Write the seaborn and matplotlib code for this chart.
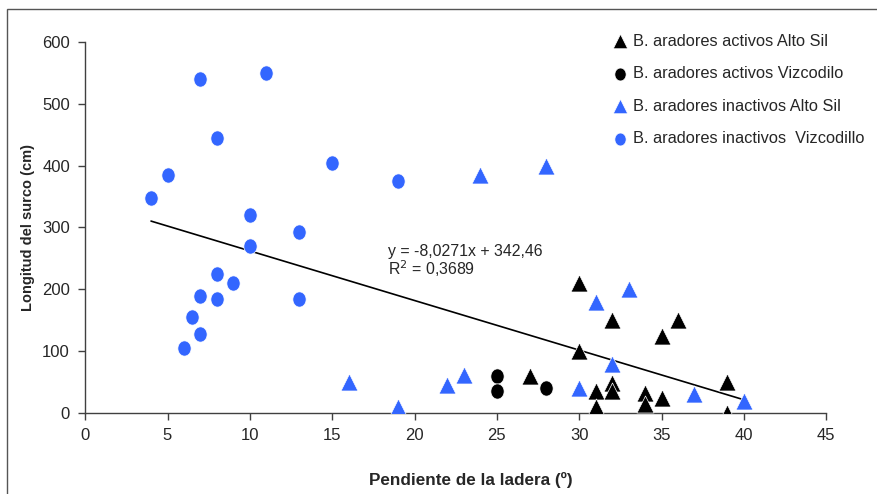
import matplotlib
matplotlib.use("Agg")
import matplotlib.pyplot as plt
from matplotlib import font_manager
from matplotlib.path import Path
import numpy as np
import pandas as pd
import seaborn as sns

# data: slope (deg) vs furrow length (cm)
act_altosil_x = [27, 30, 30, 31, 31, 32, 32, 32, 34, 34, 35, 35, 36, 39, 39]
act_altosil_y = [60, 210, 100, 35, 10, 150, 48, 35, 32, 15, 25, 125, 150, 50, 0]

act_vizco_x = [25, 25, 28]
act_vizco_y = [60, 35, 40]

inact_altosil_x = [16, 19, 22, 23, 24, 28, 30, 31, 32, 33, 37, 40]
inact_altosil_y = [50, 10, 45, 62, 385, 400, 40, 180, 80, 200, 30, 20]

inact_vizco_x = [4, 5, 7, 11, 8, 15, 19, 10, 10, 13, 8, 9, 7, 8, 13, 6.5, 7, 6]
inact_vizco_y = [348, 385, 540, 550, 445, 405, 375, 320, 270, 292, 225, 210, 190, 185, 185, 155, 128, 105]

groups = ["B. aradores activos Alto Sil", "B. aradores activos Vizcodilo",
          "B. aradores inactivos Alto Sil", "B. aradores inactivos  Vizcodillo"]

# trend line reported on the chart
slope, intercept = -8.0271, 342.46
line_x = [4, 40]

sns.set_style("white")
plt.rcParams["font.family"] = ["Liberation Sans", "DejaVu Sans"]

names = {f.name for f in font_manager.fontManager.ttflist}
if "Liberation Sans Narrow" in names:
    narrow = ["Liberation Sans Narrow", "Liberation Sans", "DejaVu Sans"]
    tick_fs, xlab_fs = 14.5, 14.5
else:
    narrow = ["Liberation Sans", "DejaVu Sans"]
    tick_fs, xlab_fs = 12, 12.3

# slightly tall ellipse for the round markers
t = np.linspace(0, 2 * np.pi, 60)
ellipse = Path(np.column_stack([0.87 * np.cos(t), np.sin(t)]), closed=True)

fig = plt.figure(figsize=(8.78, 4.94), dpi=100)
ax = fig.add_axes([0.097, 0.164, 0.844, 0.751])

blue = "#3366FF"
series = [
    (act_altosil_x, act_altosil_y, groups[0], "black", "^", 150),
    (act_vizco_x, act_vizco_y, groups[1], "black", ellipse, 120),
    (inact_altosil_x, inact_altosil_y, groups[2], blue, "^", 150),
    (inact_vizco_x, inact_vizco_y, groups[3], blue, ellipse, 120),
]
for xs, ys, lab, col, mk, sz in series:
    sns.scatterplot(x=xs, y=ys, color=col, marker=mk, s=sz, edgecolor="white",
                    linewidth=0.5, label=lab, ax=ax, zorder=3)

lx = np.array(line_x)
ax.plot(lx, slope * lx + intercept, color="black", lw=1.2, zorder=2)

ax.text(18.4, 274, "y = -8,0271x + 342,46\nR$^2$ = 0,3689", fontsize=11.4,
        va="top", ha="left", linespacing=1.0)

ax.set_xlim(0, 45)
ax.set_ylim(0, 600)
ax.set_xticks(range(0, 50, 5))
ax.set_yticks(range(0, 700, 100))
ax.set_xlabel("Pendiente de la ladera (º)", fontsize=xlab_fs, fontweight="bold",
              labelpad=24, family=narrow)
ax.xaxis.set_label_coords(0.52, -0.16)
ax.set_ylabel("Longitud del surco (cm)", fontsize=10.5, fontweight="bold", labelpad=5)
ax.tick_params(axis="both", direction="out", length=5, width=1,
               color="#404040", bottom=True, left=True)
ax.tick_params(axis="y", pad=6)
ax.tick_params(axis="x", pad=6)
for lbl in ax.get_xticklabels() + ax.get_yticklabels():
    lbl.set_family(narrow)
    lbl.set_fontsize(tick_fs)
for side in ["top", "right"]:
    ax.spines[side].set_visible(False)
for side in ["left", "bottom"]:
    ax.spines[side].set_color("#404040")
    ax.spines[side].set_linewidth(1)

leg = ax.legend(loc="upper left", bbox_to_anchor=(0.695, 1.04), frameon=False,
                fontsize=11.8, handletextpad=0.0, handlelength=1.6, labelspacing=1.07,
                markerscale=0.85, borderaxespad=0)

# thin frame round the chart area
fig.patches.append(plt.Rectangle((0.008, -0.1), 1.1, 1.082, transform=fig.transFigure,
                                 fill=False, edgecolor="#555555", lw=1))

fig.savefig("out.png", dpi=100)
